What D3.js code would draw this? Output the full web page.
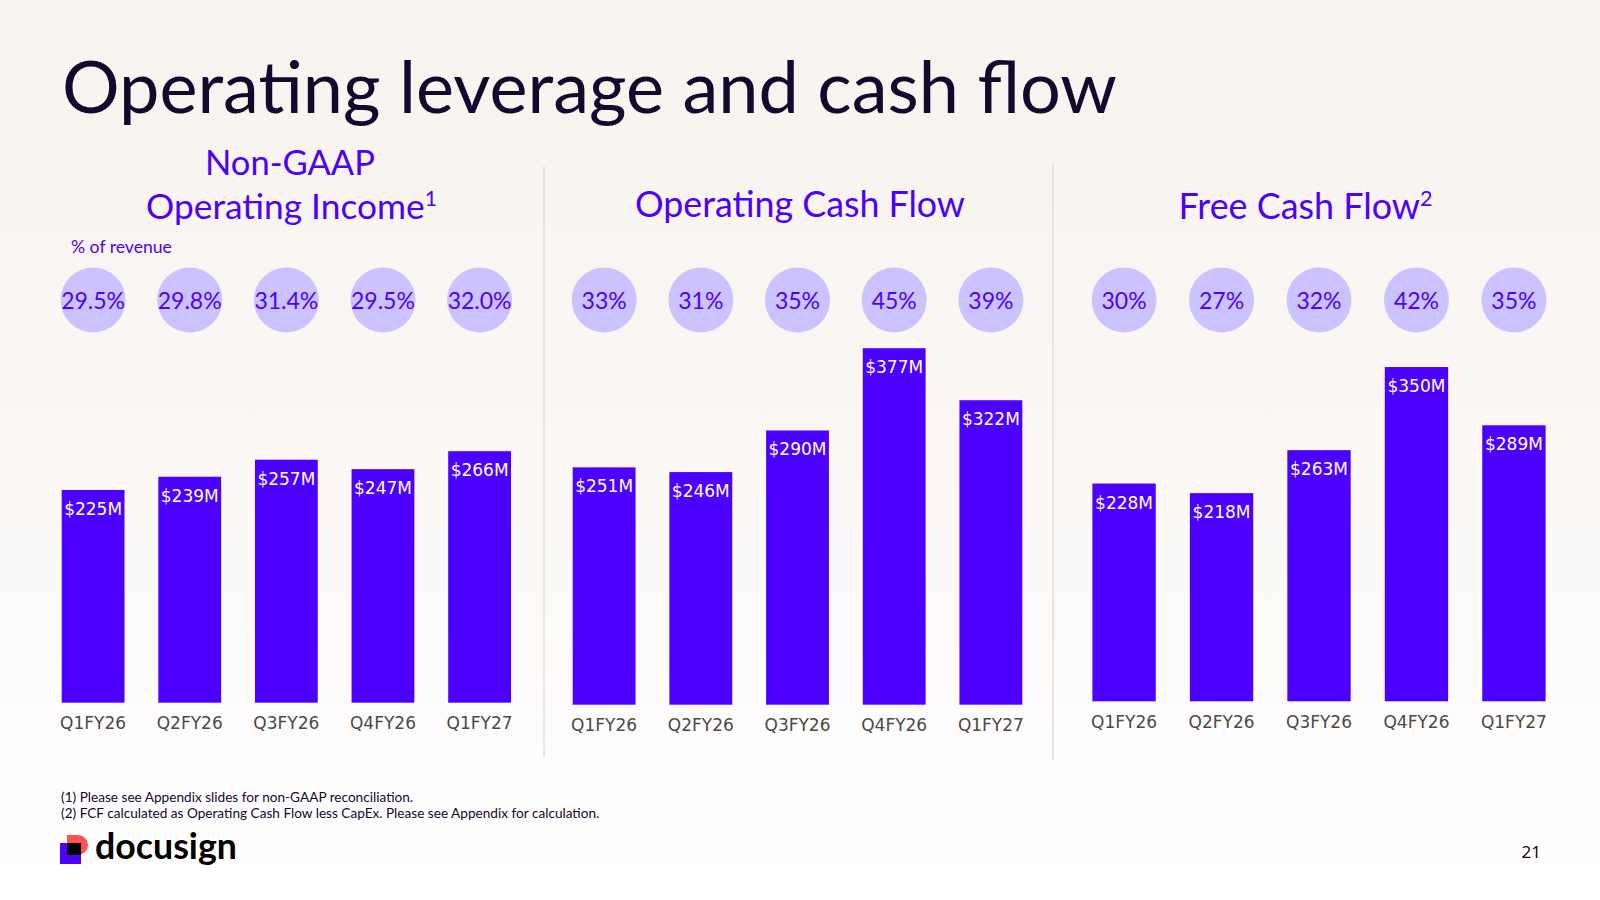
<!DOCTYPE html>
<html>
<head>
<meta charset="utf-8">
<script src="https://cdn.jsdelivr.net/npm/d3@7"></script>
<style>
  body { margin: 0; background: #fff; }
  svg { display: block; }
</style>
</head>
<body>
<script>
// Data
var quarters = ["Q1FY26", "Q2FY26", "Q3FY26", "Q4FY26", "Q1FY27"];

var opIncome = [225, 239, 257, 247, 266];
var opIncomePct = ["29.5%", "29.8%", "31.4%", "29.5%", "32.0%"];

var opCashFlow = [251, 246, 290, 377, 322];
var opCashFlowPct = ["33%", "31%", "35%", "45%", "39%"];

var freeCashFlow = [228, 218, 263, 350, 289];
var freeCashFlowPct = ["30%", "27%", "32%", "42%", "35%"];

var footnotes = [
    "(1) Please see Appendix slides for non-GAAP reconciliation.",
    "(2) FCF calculated as Operating Cash Flow less CapEx. Please see Appendix for calculation."
];

var width = 1600,
    height = 900;

var purple = "#4c00ff",
    bubble = "#cbc3ff",
    ink = "#16072f",
    titleFont = "Lato, 'Noto Sans', sans-serif",
    labelFont = "'DejaVu Sans', Verdana, sans-serif";

// Layout of each panel
var panels = [
    {values: opIncome, pcts: opIncomePct, x0: 61.7, x1: 511, base: 702.7, k: 0.9455,
     title: [{text: "Non-GAAP", y: 175, cx: 290, w: 170},
             {text: "Operating Income", sup: "1", y: 219, cx: 291.5, w: 291}]},
    {values: opCashFlow, pcts: opCashFlowPct, x0: 572.7, x1: 1022.3, base: 704.7, k: 0.9456,
     title: [{text: "Operating Cash Flow", y: 217, cx: 800, w: 330}]},
    {values: freeCashFlow, pcts: freeCashFlowPct, x0: 1092.4, x1: 1545.6, base: 701.3, k: 0.955,
     title: [{text: "Free Cash Flow", sup: "2", y: 219, cx: 1305.5, w: 254}]}
];

var svg = d3.select("body")
    .append("svg")
        .attr("width", width)
        .attr("height", height);

// background wash
var grad = svg.append("defs").append("linearGradient")
    .attr("id", "bg")
    .attr("x1", 0).attr("y1", 0).attr("x2", 0).attr("y2", 1);
grad.append("stop").attr("offset", "0%").attr("stop-color", "#f7f3ef");
grad.append("stop").attr("offset", "45%").attr("stop-color", "#faf7f4");
grad.append("stop").attr("offset", "85%").attr("stop-color", "#fefdfd");
grad.append("stop").attr("offset", "100%").attr("stop-color", "#ffffff");

svg.append("rect")
    .attr("width", width)
    .attr("height", height)
    .attr("fill", "url(#bg)");

function fitWidth(sel, w) {
    var cur = sel.node().getComputedTextLength();
    var fs = parseFloat(sel.attr("font-size"));
    sel.attr("font-size", fs * w / cur);
    return fs * w / cur;
}

// Main title
var title = svg.append("text")
    .attr("x", 62)
    .attr("y", 113)
    .attr("font-family", titleFont)
    .attr("font-size", 72)
    .attr("fill", ink)
    .text("Operating leverage and cash flow");
fitWidth(title, 1055);

// divider lines
svg.selectAll(".divider")
    .data([[544, 166, 757], [1053, 162, 760]])
  .enter().append("line")
    .attr("class", "divider")
    .attr("x1", function(d) { return d[0]; })
    .attr("x2", function(d) { return d[0]; })
    .attr("y1", function(d) { return d[1]; })
    .attr("y2", function(d) { return d[2]; })
    .attr("stroke", "#e4dfda")
    .attr("stroke-width", 1.5);

var pctNote = svg.append("text")
    .attr("x", 71)
    .attr("y", 253)
    .attr("font-family", titleFont)
    .attr("font-size", 16)
    .attr("fill", purple)
    .text("% of revenue");
fitWidth(pctNote, 101);

panels.forEach(function(p) {
    var g = svg.append("g");

    var x = d3.scaleBand()
        .domain(quarters)
        .range([p.x0, p.x1])
        .paddingInner(0.35)
        .paddingOuter(0);

    var y = d3.scaleLinear()
        .domain([0, 400])
        .range([p.base, p.base - 400 * p.k]);

    // panel title
    p.title.forEach(function(t) {
        var txt = g.append("text")
            .attr("x", t.cx)
            .attr("y", t.y)
            .attr("text-anchor", "middle")
            .attr("font-family", titleFont)
            .attr("font-size", 35)
            .attr("fill", purple);
        txt.append("tspan").text(t.text);
        if (t.sup) {
            txt.append("tspan")
                .attr("font-size", "0.6em")
                .attr("dy", -13)
                .text(t.sup);
        }
        fitWidth(txt, t.w);
    });

    var data = quarters.map(function(q, i) {
        return {q: q, v: p.values[i], pct: p.pcts[i]};
    });

    // % of revenue bubbles
    g.selectAll(".bubble")
        .data(data)
      .enter().append("circle")
        .attr("class", "bubble")
        .attr("cx", function(d) { return x(d.q) + x.bandwidth() / 2; })
        .attr("cy", 300)
        .attr("r", 32.5)
        .attr("fill", bubble);

    g.selectAll(".pct")
        .data(data)
      .enter().append("text")
        .attr("class", "pct")
        .attr("x", function(d) { return x(d.q) + x.bandwidth() / 2; })
        .attr("y", 308.5)
        .attr("text-anchor", "middle")
        .attr("font-family", titleFont)
        .attr("font-size", 23)
        .attr("fill", purple)
        .text(function(d) { return d.pct; });

    // bars
    g.selectAll(".bar")
        .data(data)
      .enter().append("rect")
        .attr("class", "bar")
        .attr("x", function(d) { return x(d.q); })
        .attr("width", x.bandwidth())
        .attr("y", function(d) { return y(d.v); })
        .attr("height", function(d) { return y(0) - y(d.v); })
        .attr("fill", purple);

    g.selectAll(".val")
        .data(data)
      .enter().append("text")
        .attr("class", "val")
        .attr("x", function(d) { return x(d.q) + x.bandwidth() / 2; })
        .attr("y", function(d) { return y(d.v) + 25; })
        .attr("text-anchor", "middle")
        .attr("font-family", labelFont)
        .attr("font-size", 17)
        .attr("fill", "#ffffff")
        .text(function(d) { return "$" + d.v + "M"; });

    // category axis, no line or ticks
    var xAxis = d3.axisBottom(x).tickSize(0).tickPadding(0);
    var ax = g.append("g")
        .attr("class", "x axis")
        .attr("transform", "translate(0," + (p.base + 26.5) + ")")
        .call(xAxis);
    ax.select(".domain").remove();
    ax.selectAll("text")
        .attr("dy", 0)
        .attr("font-family", labelFont)
        .attr("font-size", 17)
        .attr("fill", "#4a4a4a");
});

// footnotes
var notes = svg.selectAll(".footnote")
    .data(footnotes)
  .enter().append("text")
    .attr("class", "footnote")
    .attr("x", 61)
    .attr("y", function(d, i) { return 802 + i * 16; })
    .attr("font-family", titleFont)
    .attr("font-size", 13)
    .attr("fill", ink)
    .text(function(d) { return d; });
var noteSize = fitWidth(d3.select(notes.nodes()[1]), 539);
notes.attr("font-size", noteSize);

// logo
var logo = svg.append("g");
logo.append("rect")
    .attr("x", 60).attr("y", 843)
    .attr("width", 21).attr("height", 21)
    .attr("fill", purple);
logo.append("path")
    .attr("d", "M67,835 H78 A10,10 0 0 1 88,845 A10,10 0 0 1 78,855 H67 Z")
    .attr("fill", "#ff5252");
logo.append("rect")
    .attr("x", 67).attr("y", 843)
    .attr("width", 14).attr("height", 12)
    .attr("fill", "#000");
var brand = logo.append("text")
    .attr("x", 95)
    .attr("y", 859)
    .attr("font-family", titleFont)
    .attr("font-weight", 700)
    .attr("font-size", 29)
    .attr("fill", "#000")
    .text("docusign");
fitWidth(brand, 142);

svg.append("text")
    .attr("x", 1541)
    .attr("y", 858)
    .attr("text-anchor", "end")
    .attr("font-family", "'Noto Sans', sans-serif")
    .attr("font-size", 17)
    .attr("fill", ink)
    .text("21");
</script>
</body>
</html>
